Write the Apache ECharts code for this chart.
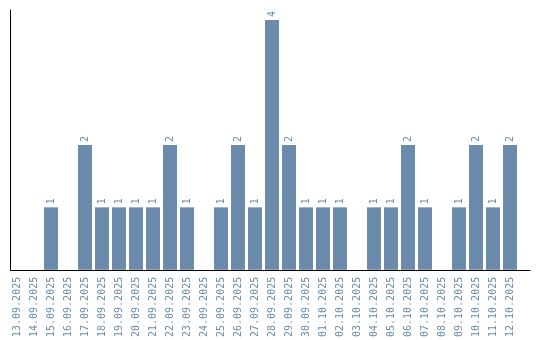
<!DOCTYPE html>
<html><head><meta charset="utf-8">
<script src="https://cdn.jsdelivr.net/npm/echarts@6/dist/echarts.min.js"></script>
<style>html,body{margin:0;padding:0;background:#fff}#c{width:540px;height:340px}</style>
</head><body><div id="c"></div>
<script>
const categories = ['13.09.2025','14.09.2025','15.09.2025','16.09.2025','17.09.2025','18.09.2025','19.09.2025','20.09.2025','21.09.2025','22.09.2025','23.09.2025','24.09.2025','25.09.2025','26.09.2025','27.09.2025','28.09.2025','29.09.2025','30.09.2025','01.10.2025','02.10.2025','03.10.2025','04.10.2025','05.10.2025','06.10.2025','07.10.2025','08.10.2025','09.10.2025','10.10.2025','11.10.2025','12.10.2025'];
const values = [0,0,1,0,2,1,1,1,1,2,1,0,1,2,1,4,2,1,1,1,0,1,1,2,1,0,1,2,1,2];

const color = '#6a8bab';
const chart = echarts.init(document.getElementById('c'), null, {renderer:'canvas'});
chart.setOption({
  animation:false,
  grid:[
    {left:8.5, right:21.5, top:10, bottom:70},
    {left:10.5, right:10, top:10, bottom:70}
  ],
  xAxis:[
    {type:'category', gridIndex:0, data:categories,
     axisLine:{show:false}, axisTick:{show:false},
     axisLabel:{interval:0, rotate:90, color:color, fontFamily:'DejaVu Sans Mono', fontSize:10, margin:7}},
    {type:'category', gridIndex:1, data:[''],
     axisLine:{show:true, lineStyle:{color:'#000', width:1}}, axisTick:{show:false}, axisLabel:{show:false}}
  ],
  yAxis:[
    {type:'value', gridIndex:0, min:0, max:4.16, offset:-2,
     axisLine:{show:true, lineStyle:{color:'#000', width:1}}, axisTick:{show:false}, axisLabel:{show:false}, splitLine:{show:false}},
    {type:'value', gridIndex:1, show:false}
  ],
  series:[{
    type:'bar', xAxisIndex:0, yAxisIndex:0, data:values, barWidth:14,
    itemStyle:{color:color},
    label:{show:true, position:'top', rotate:90, align:'left', verticalAlign:'middle', distance:3,
      color:color, fontFamily:'DejaVu Sans Mono', fontSize:10,
      formatter:p=>p.value>0?String(p.value):''}
  }]
});
</script></body></html>
